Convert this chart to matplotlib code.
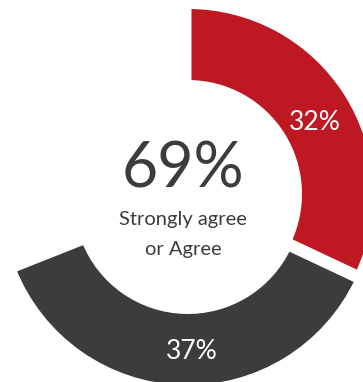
import numpy as np
import matplotlib.pyplot as plt

# share of respondents per answer
labels = ["Strongly agree", "Agree"]
shares = [32, 37]
colors = ["#BE1823", "#3D3C3A"]
caption_lines = ["Strongly agree", "or Agree"]

TEXT_DARK = "#3D3C3A"
FONT = "Lato"

fig = plt.figure(figsize=(3.63, 3.82), dpi=100)
ax = fig.add_axes([0, 0, 1, 1])

cx, cy = 188, 188
outer = 188.5
ring = 78

wedges, _ = ax.pie(
    np.array(shares) / 100,
    normalize=False,
    colors=colors,
    startangle=90,
    counterclock=False,
    radius=outer,
    center=(cx, cy),
    explode=[0, 6],
    wedgeprops=dict(width=ring, edgecolor="white", linewidth=5),
    frame=True,
)
ax.set_xlim(0, 363)
ax.set_ylim(0, 382)
ax.set_aspect("equal")
ax.axis("off")

# percentage labels inside each ring segment, nudged a little off the middle
nudges = [(1, -9), (9, -2)]
for w, val, (dx, dy) in zip(wedges, shares, nudges):
    mid = np.deg2rad((w.theta1 + w.theta2) / 2)
    r = w.r - w.width / 2
    x = w.center[0] + r * np.cos(mid) + dx
    y = w.center[1] + r * np.sin(mid) + dy
    ax.text(x, y, f"{val}%", color="white", fontsize=19, family=FONT,
            ha="center", va="center")

total = sum(shares)
ax.text(183, 195, f"{total}%", color=TEXT_DARK, fontsize=45, family=FONT,
        ha="center", va="baseline")
for line, base in zip(caption_lines, [157, 127]):
    ax.text(183, base, line, color=TEXT_DARK, fontsize=14.5, family=FONT,
            ha="center", va="baseline")

fig.savefig("out.png", dpi=100)
